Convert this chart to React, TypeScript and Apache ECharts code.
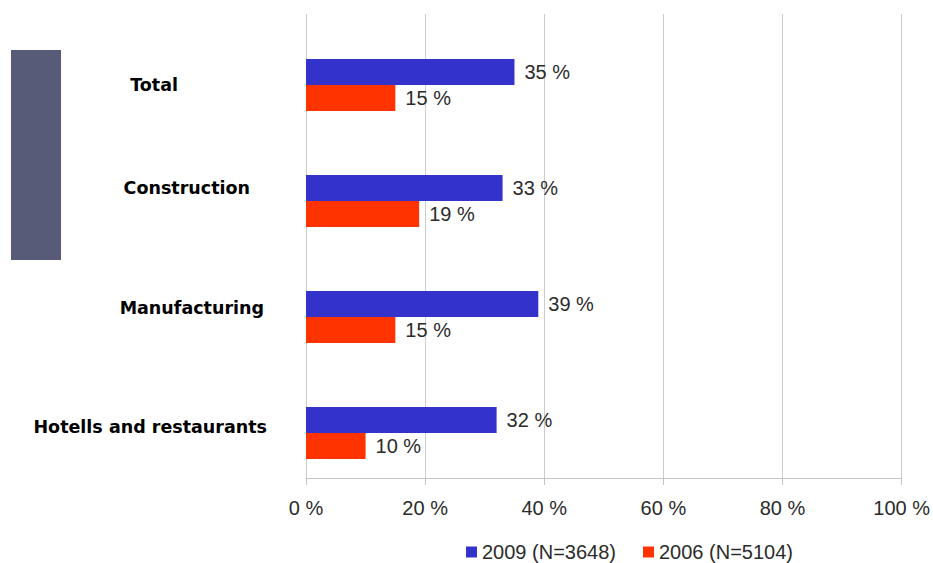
import React, { useEffect, useRef } from "react";
import * as echarts from "echarts";

const categories = ["Total", "Construction", "Manufacturing", "Hotells and restaurants"];
const series2009Name = "2009 (N=3648)";
const series2006Name = "2006 (N=5104)";
const values2009 = [35, 33, 39, 32];
const values2006 = [15, 19, 15, 10];
const spacerValues = [0, 0, 0, 0];
const xTicks = [0, 20, 40, 60, 80, 100];

// label fine placement: downward shift and right padding per category
const labelShift = [13, 0, 4, 7];
const labelRightPad = [89, 17, 3, 0];

export default function App() {
  const ref = useRef<HTMLDivElement>(null);
  useEffect(() => {
    if (!ref.current) return;
    const chart = echarts.init(ref.current, undefined, { renderer: "svg" });
    const labelCommon = {
      show: true,
      position: "right",
      distance: 10,
      fontSize: 20,
      color: "#2b2b2b",
      fontFamily: "Liberation Sans, Arial, sans-serif",
      formatter: (p: any) => `${p.value} %`,
    };
    chart.setOption({
      animation: false,
      backgroundColor: "#ffffff",
      graphic: [
        {
          type: "rect",
          left: 11,
          top: 50,
          shape: { width: 50, height: 210 },
          style: { fill: "#575b78" },
          silent: true,
        },
      ],
      grid: { left: 306, right: 30, top: 14, bottom: 85 },
      legend: {
        data: [series2009Name, series2006Name],
        left: 461,
        top: 537,
        icon: "rect",
        itemWidth: 11,
        itemHeight: 11,
        itemGap: 27,
        textStyle: {
          fontSize: 20,
          color: "#2b2b2b",
          fontFamily: "Liberation Sans, Arial, sans-serif",
        },
      },
      xAxis: {
        type: "value",
        min: xTicks[0],
        max: xTicks[xTicks.length - 1],
        interval: xTicks[1] - xTicks[0],
        axisLine: { show: true, lineStyle: { color: "#c4c4c4", width: 1 } },
        axisTick: { show: true, length: 7, lineStyle: { color: "#c4c4c4" } },
        splitLine: { show: true, lineStyle: { color: "#cccccc", width: 1 } },
        axisLabel: {
          formatter: "{value} %",
          fontSize: 20,
          margin: 20,
          color: "#2b2b2b",
          fontFamily: "Liberation Sans, Arial, sans-serif",
        },
      },
      yAxis: {
        type: "category",
        inverse: true,
        data: categories.map((c, i) => ({
          value: c,
          textStyle:
            labelShift[i] > 0
              ? {
                  verticalAlign: "top",
                  lineHeight: labelShift[i] * 2,
                  padding: [0, labelRightPad[i], 0, 0],
                }
              : { padding: [0, labelRightPad[i], 0, 0] },
        })),
        axisLine: { show: false },
        axisTick: { show: false },
        axisLabel: {
          margin: 39,
          fontSize: 17.5,
          fontWeight: "bold",
          color: "#000000",
          fontFamily: "DejaVu Sans, Verdana, sans-serif",
          align: "right",
        },
      },
      series: [
        {
          name: "spacer",
          type: "bar",
          data: spacerValues,
          barWidth: 26,
          barGap: 0,
          silent: true,
          itemStyle: { color: "rgba(0,0,0,0)" },
          label: { show: false },
        },
        {
          name: series2009Name,
          type: "bar",
          data: values2009,
          barWidth: 26,
          barGap: 0,
          itemStyle: { color: "#3333cc" },
          label: labelCommon,
        },
        {
          name: series2006Name,
          type: "bar",
          data: values2006,
          barWidth: 26,
          barGap: 0,
          itemStyle: { color: "#ff3300" },
          label: labelCommon,
        },
      ],
    });
    return () => chart.dispose();
  }, []);
  return (
    <div
      ref={ref}
      style={{ position: "fixed", left: 0, top: 0, width: 933, height: 563 }}
    />
  );
}
